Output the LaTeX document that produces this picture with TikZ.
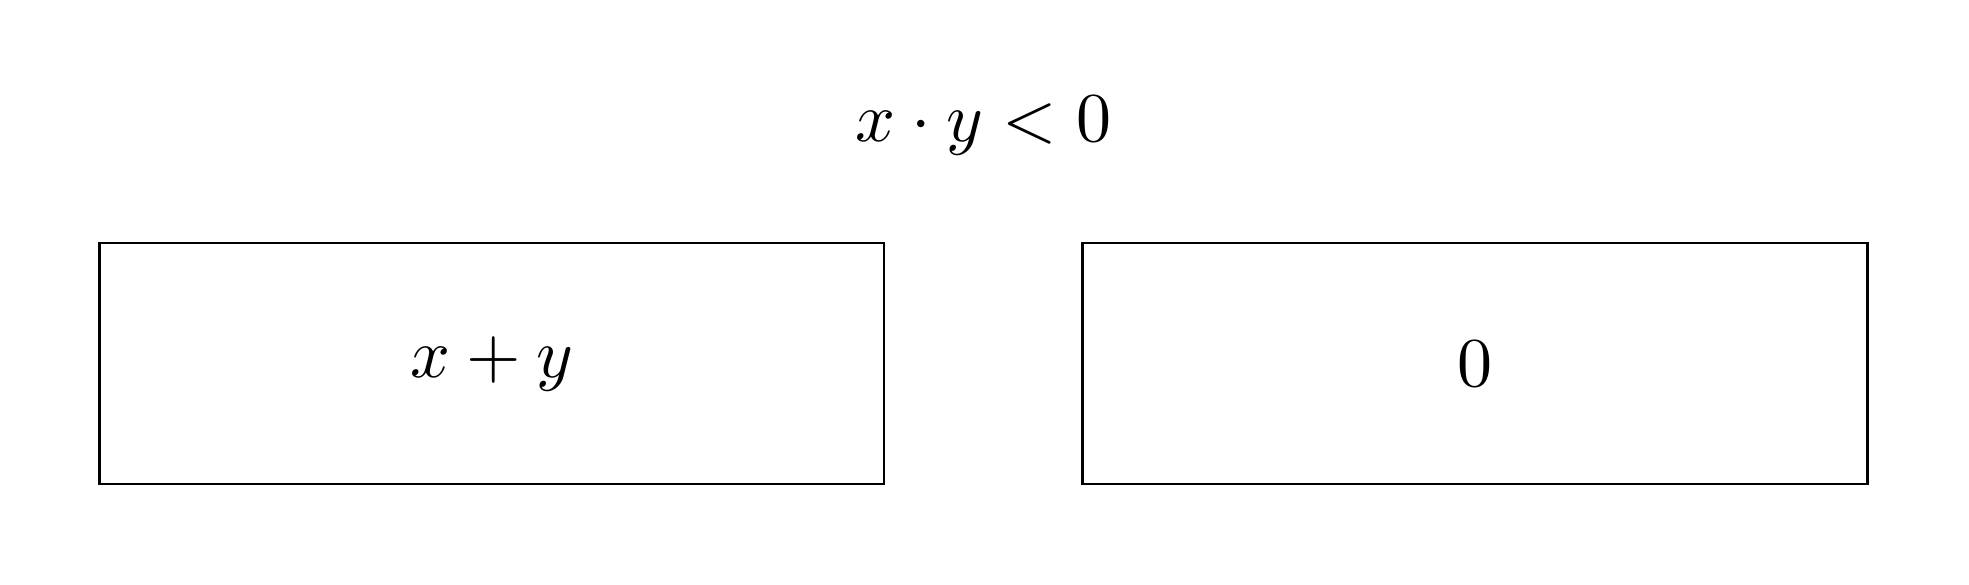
\documentclass[tikz,border=0pt]{standalone}
\begin{document}
\begin{tikzpicture}[x=1pt,y=1pt,
  valbox/.style={draw, line width=0.4pt, rectangle, minimum width=112.08pt, minimum height=34.43pt, inner sep=0pt, outer sep=0pt}]
\useasboundingbox (0,0) rectangle (281.29,83.57);
\node[anchor=base] (cond) at (140.5,63.3) {$x \cdot y < 0$};
\node[valbox] (left) at (70.25,31.64) {$x + y$};
\node[valbox] (right) at (210.71,31.64) {$0$};
\end{tikzpicture}
\end{document}
